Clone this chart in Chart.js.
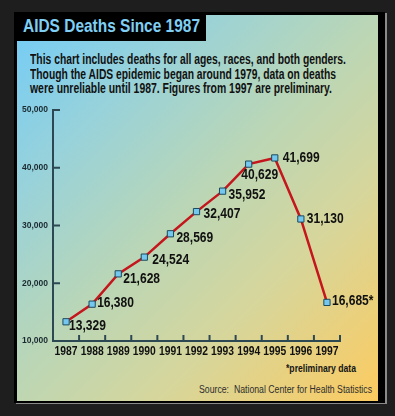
<!DOCTYPE html>
<html>
<head>
<meta charset="utf-8">
<script src="https://cdn.jsdelivr.net/npm/chart.js@4"></script>
<style>
  html, body { margin: 0; padding: 0; }
  body { width: 395px; height: 416px; background: #1e1e1e; position: relative; overflow: hidden;
         font-family: "Liberation Sans", Arial, sans-serif; }
  #frame { position: absolute; left: 14px; top: 12px; width: 371px; height: 391px; background: #000;
           box-shadow: 2px 1px 0 #8a8a8a; }
  #panel { position: absolute; left: 17px; top: 15px; width: 361px; height: 386px;
           background: linear-gradient(135deg, #72ccf8 0%, #98d2da 24%, #bad6b6 48%, #d6d69c 70%, #fccb60 100%); }
  #titlebox { position: absolute; left: 14px; top: 12px; width: 192px; height: 29px; background: #000; }
  .txt { position: absolute; white-space: nowrap; line-height: 1; transform-origin: 0 0; }
  #title { left: 23px; top: 15.5px; font-size: 19px; font-weight: bold; color: #7fcff4; }
  .desc { left: 30px; font-size: 14px; font-weight: bold; color: #111; }
  #note { left: 286px; top: 363.7px; font-size: 10px; font-weight: bold; color: #151515; }
  #source { left: 199px; top: 385.4px; font-size: 10px; color: #2e2e2e; }
  #c { position: absolute; left: 0; top: 0; }
</style>
</head>
<body>
<div id="frame"></div>
<div id="panel"></div>
<div id="titlebox"></div>
<div class="txt" id="title" data-w="177">AIDS Deaths Since 1987</div>
<div class="txt desc" style="top:51.7px" data-w="316">This chart includes deaths for all ages, races, and both genders.</div>
<div class="txt desc" style="top:66.7px" data-w="306">Though the AIDS epidemic began around 1979, data on deaths</div>
<div class="txt desc" style="top:81.2px" data-w="302">were unreliable until 1987. Figures from 1997 are preliminary.</div>
<div class="txt" id="note" data-w="70">*preliminary data</div>
<div class="txt" id="source" data-w="173">Source:&nbsp; National Center for Health Statistics</div>
<canvas id="c" width="395" height="416"></canvas>
<script>
// ---------- Data ----------
const years = ["1987", "1988", "1989", "1990", "1991", "1992", "1993", "1994", "1995", "1996", "1997"];
const deaths = [13329, 16380, 21628, 24524, 28569, 32407, 35952, 40629, 41699, 31130, 16685];
const preliminaryYear = "1997";
const yTicks = [10000, 20000, 30000, 40000, 50000];

// label placement relative to each point: [dx, dy, align]
const labelPlace = [
  [3, 4, "left"], [5, -1, "left"], [5, 5, "left"], [8, 3, "left"], [6, 4, "left"],
  [7, 3, "left"], [6, 4, "left"], [11, 11, "center"], [8, 0, "left"], [6, 0, "left"], [5, -1, "left"],
];

const AXIS = "#2c4853";
const FONT = '"Liberation Sans", Arial, sans-serif';
const SQUEEZE = 0.86; // the original type is a condensed face

// squeeze html text lines to the widths seen in the picture
document.querySelectorAll(".txt").forEach((el) => {
  const w = el.getBoundingClientRect().width;
  const target = +el.dataset.w;
  if (w && target) el.style.transform = `scaleX(${target / w})`;
});

// draw text squeezed horizontally
function narrowText(ctx, txt, x, y, align) {
  ctx.save();
  ctx.translate(x, y);
  ctx.scale(SQUEEZE, 1);
  ctx.textAlign = align;
  ctx.fillText(txt, 0, 0);
  ctx.restore();
}

// inward tick marks on both axes + condensed year labels
const axisDecor = {
  id: "axisDecor",
  afterDraw(chart) {
    const { ctx, chartArea } = chart;
    const xs = chart.scales.x, ys = chart.scales.y;
    ctx.save();
    ctx.strokeStyle = AXIS;
    ctx.lineWidth = 2;
    ctx.beginPath();
    yTicks.forEach((v) => {
      const y = ys.getPixelForValue(v);
      ctx.moveTo(chartArea.left, y);
      ctx.lineTo(chartArea.left + 7, y);
    });
    for (let i = 0; i < years.length; i++) {
      const x = i < years.length - 1
        ? (xs.getPixelForValue(i) + xs.getPixelForValue(i + 1)) / 2
        : chartArea.right;
      ctx.moveTo(x, chartArea.bottom);
      ctx.lineTo(x, chartArea.bottom - 6);
    }
    ctx.stroke();

    ctx.font = "bold 12px " + FONT;
    ctx.fillStyle = "#111";
    ctx.textBaseline = "middle";
    years.forEach((yr, i) => narrowText(ctx, yr, xs.getPixelForValue(i), chartArea.bottom + 10.5, "center"));
    ctx.restore();
  },
};

// value labels next to each point
const valueLabels = {
  id: "valueLabels",
  afterDatasetsDraw(chart) {
    const { ctx } = chart;
    const meta = chart.getDatasetMeta(0);
    ctx.save();
    ctx.font = "bold 14px " + FONT;
    ctx.fillStyle = "#111";
    ctx.textBaseline = "middle";
    meta.data.forEach((pt, i) => {
      const [dx, dy, align] = labelPlace[i];
      let txt = deaths[i].toLocaleString("en-US");
      if (years[i] === preliminaryYear) txt += "*";
      narrowText(ctx, txt, pt.x + dx, pt.y + dy, align);
    });
    ctx.restore();
  },
};

new Chart(document.getElementById("c"), {
  type: "line",
  data: {
    labels: years,
    datasets: [{
      data: deaths,
      borderColor: "#c4161c",
      borderWidth: 2.5,
      tension: 0,
      pointStyle: "rect",
      pointRadius: 4.4,
      pointBackgroundColor: "#74c8ef",
      pointBorderColor: "#1d4a5e",
      pointBorderWidth: 1,
    }],
  },
  options: {
    responsive: false,
    animation: false,
    events: [],
    layout: { padding: { left: 0, top: 110, right: 55, bottom: 55 } },
    plugins: { legend: { display: false }, tooltip: { enabled: false } },
    scales: {
      x: {
        offset: true,
        afterFit: (s) => { s.height = 20; },
        grid: { display: false, drawTicks: false },
        border: { display: true, color: AXIS, width: 2 },
        ticks: { display: false, autoSkip: false },
      },
      y: {
        min: 10000,
        max: 50000,
        afterFit: (s) => { s.width = 53; },
        afterBuildTicks: (s) => { s.ticks = yTicks.map((v) => ({ value: v })); },
        grid: { display: false, drawTicks: false },
        border: { display: true, color: AXIS, width: 2 },
        ticks: { color: "#1a2a30", padding: 5,
                 font: { family: FONT, size: 8.5, weight: "bold" },
                 callback: (v) => v.toLocaleString("en-US") },
      },
    },
  },
  plugins: [axisDecor, valueLabels],
});
</script>
</body>
</html>
